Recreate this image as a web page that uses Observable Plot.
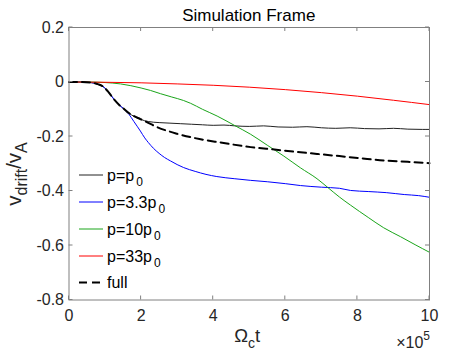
<!DOCTYPE html>
<html><head><meta charset="utf-8">
<script src="https://cdn.jsdelivr.net/npm/d3@7"></script>
<script src="https://cdn.jsdelivr.net/npm/@observablehq/plot@0.6"></script>
<style>
body{margin:0;background:#fff}
svg{font-family:"Liberation Sans",Arial,Helvetica,sans-serif}
</style>
</head><body><div id="chart"></div><script>
// ---- data (x in units of 1e5 Omega_c t) ----
const xTicks = [0, 2, 4, 6, 8, 10];
const yTicks = [-0.8, -0.6, -0.4, -0.2, 0, 0.2];

const t_p1 = [0,0.3,0.6,0.8,0.97,1.1,1.24,1.4,1.52,1.66,1.8,1.98,2.2,2.5,2.8,3.1,3.4,3.7,4,4.3,4.6,5,5.4,5.8,6.2,6.6,7,7.4,7.8,8.2,8.6,9,9.4,9.8,10];
const v_p1 = [0,0,-0.002,-0.008,-0.019,-0.038,-0.062,-0.085,-0.098,-0.114,-0.126,-0.137,-0.145,-0.149,-0.151,-0.153,-0.155,-0.157,-0.159,-0.158,-0.161,-0.163,-0.161,-0.165,-0.166,-0.164,-0.168,-0.17,-0.168,-0.171,-0.172,-0.17,-0.173,-0.174,-0.174];

const t_p33 = [0,0.3,0.6,0.8,0.97,1.1,1.24,1.4,1.52,1.66,1.8,1.98,2.1,2.2,2.34,2.5,2.65,2.82,3.0,3.18,3.5,3.8,4.1,4.6,5.04,5.5,6,6.42,7,7.5,7.81,8.3,8.8,9.3,9.7,10];
const v_p33 = [0,0,-0.002,-0.008,-0.019,-0.038,-0.062,-0.085,-0.099,-0.118,-0.145,-0.18,-0.205,-0.222,-0.243,-0.262,-0.277,-0.29,-0.303,-0.314,-0.328,-0.339,-0.347,-0.355,-0.361,-0.366,-0.373,-0.38,-0.386,-0.39,-0.398,-0.402,-0.406,-0.413,-0.417,-0.423];

const t_p10 = [0,0.5,1,1.43,2,2.26,2.54,2.85,3.18,3.37,3.7,4.11,4.6,5.04,5.5,5.96,6.42,6.88,7.16,7.5,7.81,8.3,8.73,9.2,9.6,10];
const v_p10 = [0,0,-0.002,-0.007,-0.022,-0.031,-0.043,-0.055,-0.068,-0.078,-0.1,-0.125,-0.16,-0.192,-0.232,-0.272,-0.315,-0.355,-0.385,-0.422,-0.452,-0.497,-0.535,-0.568,-0.597,-0.625];

const t_p330 = [0,1,2,3,4,5,6,7,8,9,10];
const v_p330 = [0,-0.001,-0.003,-0.007,-0.012,-0.019,-0.028,-0.039,-0.052,-0.067,-0.083];

const t_full = [0,0.3,0.6,0.8,0.97,1.1,1.24,1.4,1.52,1.66,1.8,1.98,2.2,2.4,3,3.65,4.2,5.04,5.7,6.42,6.88,7.5,8.1,8.73,9.4,10];
const v_full = [0,0,-0.002,-0.008,-0.019,-0.038,-0.062,-0.085,-0.098,-0.114,-0.125,-0.136,-0.15,-0.163,-0.19,-0.21,-0.222,-0.239,-0.248,-0.258,-0.264,-0.272,-0.28,-0.288,-0.293,-0.298];

const seriesLabels = [["p=p","0"],["p=3.3p","0"],["p=10p","0"],["p=33p","0"],["full",""]];
const seriesColors = ["#222222","#0000ff","#1aa51a","#ff0000","#000000"];
const seriesT = [t_p1, t_p33, t_p10, t_p330, t_full];
const seriesV = [v_p1, v_p33, v_p10, v_p330, v_full];

const rows = [];
seriesT.forEach((ts, i) => ts.forEach((t, j) => rows.push({s: i, t, v: seriesV[i][j]})));

const W = 474, H = 356, mL = 68.5, mR = 45, mT = 27, mB = 56.5;
const axisColor = "#808080";

const plot = Plot.plot({
  width: W, height: H,
  marginLeft: mL, marginRight: mR, marginTop: mT, marginBottom: mB,
  style: {color: "#262626", background: "#fff", overflow: "visible"},
  x: {domain: [0, 10]},
  y: {domain: [-0.8, 0.2]},
  marks: [
    Plot.axisX(xTicks, {tickSize: 0, tickPadding: 10, fontSize: 16, label: null, tickFormat: d => String(d)}),
    Plot.axisY(yTicks, {tickSize: 0, tickPadding: 5, fontSize: 16, label: null, tickFormat: d => String(d)}),
    ...[0,1,2,3].map(i => Plot.line(rows.filter(d => d.s === i), {x: "t", y: "v", stroke: seriesColors[i], strokeWidth: 1, curve: "monotone-x"})),
    Plot.line(rows.filter(d => d.s === 4), {x: "t", y: "v", stroke: seriesColors[4], strokeWidth: 2, strokeDasharray: "8,5", curve: "monotone-x"}),
    Plot.frame({stroke: axisColor, strokeWidth: 1})
  ]
});
document.getElementById("chart").append(plot);

const svg = d3.select(plot);
const sx = plot.scale("x"), sy = plot.scale("y");
const x0 = mL, x1 = W - mR, y0 = mT, y1 = H - mB;
const g = svg.append("g").attr("stroke", axisColor).attr("stroke-width", 1);
xTicks.forEach(v => {
  const x = sx.apply(v);
  g.append("line").attr("x1", x).attr("x2", x).attr("y1", y1).attr("y2", y1 - 4);
  g.append("line").attr("x1", x).attr("x2", x).attr("y1", y0).attr("y2", y0 + 4);
});
yTicks.forEach(v => {
  const y = sy.apply(v);
  g.append("line").attr("x1", x0).attr("x2", x0 + 4).attr("y1", y).attr("y2", y);
  g.append("line").attr("x1", x1).attr("x2", x1 - 4).attr("y1", y).attr("y2", y);
});

// title
svg.append("text").attr("x", (x0 + x1) / 2).attr("y", 20.5).attr("text-anchor", "middle")
  .attr("font-size", 17).attr("fill", "#000").text("Simulation Frame");

// x label
const xl = svg.append("text").attr("x", (x0 + x1) / 2 - 1.5).attr("y", 341.5).attr("text-anchor", "middle")
  .attr("font-size", 18.5).attr("fill", "#262626");
xl.append("tspan").text("Ω");
xl.append("tspan").attr("font-size", 14).attr("dy", 6).text("c");
xl.append("tspan").attr("dy", -6).text("t");

// exponent
const ex = svg.append("text").attr("x", x1 + 1).attr("y", 348).attr("text-anchor", "end")
  .attr("font-size", 16).attr("fill", "#262626");
ex.append("tspan").text("×10");
ex.append("tspan").attr("font-size", 12).attr("dy", -8).text("5");

// y label
const yl = svg.append("text").attr("transform", "translate(20.5,174) rotate(-90)").attr("text-anchor", "middle")
  .attr("font-size", 20.5).attr("fill", "#262626");
yl.append("tspan").text("v");
yl.append("tspan").attr("font-size", 16).attr("dy", 6).text("drift");
yl.append("tspan").attr("dy", -6).text("/v");
yl.append("tspan").attr("font-size", 16).attr("dy", 6).text("A");

// legend
const legRows = [124.5, 97.5, 70.5, 43.5, 17];
seriesLabels.forEach((lab, i) => {
  const ry = y1 - legRows[i];
  svg.append("line").attr("x1", x0 + 10.5).attr("x2", x0 + 34.5).attr("y1", ry).attr("y2", ry)
    .attr("stroke", seriesColors[i]).attr("stroke-width", i === 4 ? 2 : 1)
    .attr("stroke-dasharray", i === 4 ? "8,5" : null);
  const t = svg.append("text").attr("x", x0 + 38.5).attr("y", ry + 5.5).attr("text-anchor", "start")
    .attr("font-size", 16).attr("fill", "#000");
  t.append("tspan").text(lab[0]);
  if (lab[1]) t.append("tspan").attr("font-size", 12).attr("dx", 2).attr("dy", 5).text(lab[1]);
});
</script></body></html>
